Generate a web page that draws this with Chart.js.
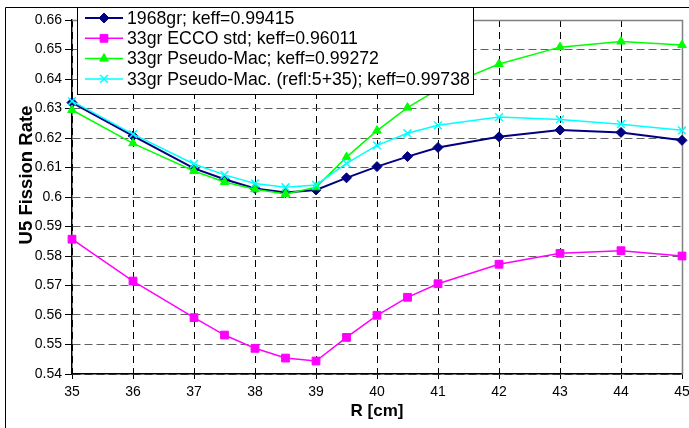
<!DOCTYPE html>
<html>
<head>
<meta charset="utf-8">
<script src="https://cdn.jsdelivr.net/npm/chart.js@4/dist/chart.umd.min.js"></script>
<style>
  html, body { margin: 0; padding: 0; background: #fff; }
  #wrap { width: 689px; height: 428px; position: relative; }
</style>
</head>
<body>
<div id="wrap"><canvas id="chart" width="689" height="428"></canvas></div>
<script>
const radii = [35, 36, 37, 37.5, 38, 38.5, 39, 39.5, 40, 40.5, 41, 42, 43, 44, 45];

const gr1968 = [0.6320, 0.6207, 0.6097, 0.6060, 0.6029, 0.6015, 0.6024, 0.6065, 0.6103, 0.6137, 0.6168, 0.6204, 0.6227, 0.6219, 0.6192];
const eccoStd = [0.5857, 0.5715, 0.5591, 0.5532, 0.5487, 0.5454, 0.5444, 0.5524, 0.5599, 0.5660, 0.5706, 0.5772, 0.5809, 0.5818, 0.5800];
const pseudoMac = [0.6295, 0.6182, 0.6088, 0.6051, 0.6026, 0.6010, 0.6033, 0.6135, 0.6225, 0.6303, 0.6365, 0.6451, 0.6508, 0.6527, 0.6515];
const pseudoMacRefl = [0.6325, 0.6213, 0.6112, 0.6075, 0.6046, 0.6033, 0.6041, 0.6114, 0.6175, 0.6216, 0.6243, 0.6271, 0.6263, 0.6247, 0.6226];

const seriesLabels = [
  '1968gr; keff=0.99415',
  '33gr ECCO std; keff=0.96011',
  '33gr Pseudo-Mac; keff=0.99272',
  '33gr Pseudo-Mac. (refl:5+35); keff=0.99738'
];

const FONT = 'Arial, "Liberation Sans", sans-serif';

function toPoints(values) {
  return radii.map((r, i) => ({ x: r, y: values[i] }));
}

function makeDataset(label, values, color, style, radius, width, order) {
  return {
    label,
    data: toPoints(values),
    borderColor: color,
    backgroundColor: color,
    pointBackgroundColor: color,
    pointBorderColor: color,
    pointStyle: style,
    pointRadius: radius,
    pointHoverRadius: radius,
    pointBorderWidth: style === 'crossRot' ? 1.5 : 1,
    borderWidth: width,
    tension: 0,
    fill: false,
    clip: false,
    order
  };
}

// gray frame on top/right of the plot area
const plotFrame = {
  id: 'plotFrame',
  beforeDatasetsDraw(chart) {
    const { ctx, chartArea: a } = chart;
    ctx.save();
    ctx.strokeStyle = '#808080';
    ctx.lineWidth = 1.5;
    ctx.beginPath();
    ctx.moveTo(a.left, Math.round(a.top) + 0.5);
    ctx.lineTo(Math.round(a.right) + 0.5, Math.round(a.top) + 0.5);
    ctx.lineTo(Math.round(a.right) + 0.5, a.bottom);
    ctx.stroke();
    ctx.restore();
  }
};

// y title sits a bit above the middle in the original
const yTitle = {
  id: 'yTitle',
  afterDraw(chart) {
    const { ctx } = chart;
    ctx.save();
    ctx.translate(27, 175);
    ctx.rotate(-Math.PI / 2);
    ctx.font = 'bold 18.5px ' + FONT;
    ctx.fillStyle = '#000';
    ctx.textAlign = 'center';
    ctx.textBaseline = 'middle';
    ctx.fillText('U5 Fission Rate', 0, 0);
    ctx.restore();
  }
};

// legend box drawn inside the plot, like the original
const boxLegend = {
  id: 'boxLegend',
  afterDatasetsDraw(chart) {
    const { ctx } = chart;
    const box = { left: 77.5, top: 7.5, right: 473.5, bottom: 94.5 };
    ctx.save();
    ctx.fillStyle = '#fff';
    ctx.fillRect(box.left, box.top, box.right - box.left, box.bottom - box.top);
    ctx.strokeStyle = '#000';
    ctx.lineWidth = 1;
    ctx.strokeRect(box.left, box.top, box.right - box.left, box.bottom - box.top);

    ctx.font = '17.7px ' + FONT;
    ctx.textBaseline = 'middle';
    chart.data.datasets.forEach((ds, i) => {
      const y = 18 + i * 20.3;
      ctx.strokeStyle = ds.borderColor;
      ctx.lineWidth = ds.borderWidth;
      ctx.beginPath();
      ctx.moveTo(85, y);
      ctx.lineTo(123, y);
      ctx.stroke();
      ctx.fillStyle = ds.pointBackgroundColor;
      ctx.strokeStyle = ds.pointBorderColor;
      ctx.lineWidth = ds.pointBorderWidth;
      Chart.helpers.drawPoint(ctx, {
        pointStyle: ds.pointStyle,
        radius: ds.pointRadius,
        borderWidth: ds.pointBorderWidth,
        rotation: 0
      }, 104, y);
      ctx.fillStyle = '#000';
      ctx.fillText(seriesLabels[i], 127, y + 1);
    });
    ctx.restore();
  }
};

const outerBorder = {
  id: 'outerBorder',
  afterDraw(chart) {
    const { ctx } = chart;
    ctx.save();
    ctx.strokeStyle = '#000';
    ctx.lineWidth = 1;
    ctx.beginPath();
    ctx.moveTo(5.5, 428);
    ctx.lineTo(5.5, 7.5);
    ctx.lineTo(689, 7.5);
    ctx.stroke();
    ctx.restore();
  }
};

new Chart(document.getElementById('chart'), {
  type: 'line',
  data: {
    datasets: [
      makeDataset(seriesLabels[0], gr1968, '#000080', 'rectRot', 5, 2, 3),
      makeDataset(seriesLabels[1], eccoStd, '#ff00ff', 'rect', 5.5, 1.5, 2),
      makeDataset(seriesLabels[2], pseudoMac, '#00ff00', 'triangle', 5, 1.5, 1),
      makeDataset(seriesLabels[3], pseudoMacRefl, '#00ffff', 'crossRot', 5.5, 1.5, 0)
    ]
  },
  options: {
    responsive: false,
    animation: false,
    events: [],
    layout: { padding: { top: 20, right: 7, left: 0, bottom: 0 } },
    plugins: {
      legend: { display: false },
      tooltip: { enabled: false }
    },
    scales: {
      x: {
        type: 'linear',
        min: 35,
        max: 45,
        afterFit(scale) {
          scale.height = 54;
          scale.paddingLeft = 0;
          scale.paddingRight = 0;
        },
        ticks: {
          stepSize: 1,
          color: '#000',
          padding: 5,
          font: { family: FONT, size: 14 },
          maxRotation: 0
        },
        grid: {
          color: '#000',
          lineWidth: 1,
          tickLength: 5,
          tickColor: '#000'
        },
        border: { color: '#000', width: 1.5, dash: [7, 5] },
        title: {
          display: true,
          text: 'R [cm]',
          color: '#000',
          font: { family: FONT, size: 17, weight: 'bold' },
          padding: { top: 0, bottom: 6 }
        }
      },
      y: {
        min: 0.54,
        max: 0.66,
        afterFit(scale) {
          scale.width = 72;
          scale.paddingTop = 0;
          scale.paddingBottom = 0;
        },
        ticks: {
          stepSize: 0.01,
          color: '#000',
          padding: 3,
          font: { family: FONT, size: 14 },
          callback: v => String(+v.toFixed(2))
        },
        grid: {
          color: '#606060',
          lineWidth: 1,
          tickLength: 7,
          tickColor: '#000'
        },
        border: { color: '#000', width: 1.5, dash: [8, 4] },
        title: { display: false }
      }
    }
  },
  plugins: [plotFrame, boxLegend, yTitle, outerBorder]
});
</script>
</body>
</html>
